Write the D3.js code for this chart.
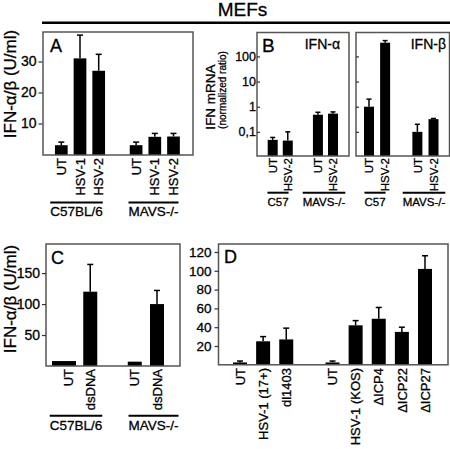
<!DOCTYPE html>
<html><head><meta charset="utf-8">
<script src="https://cdn.jsdelivr.net/npm/d3@7"></script>
<style>
body{margin:0;background:#fff}
svg{display:block}
text{font-family:"Liberation Sans",Arial,sans-serif;fill:#000;stroke:#000;stroke-width:0.3px}
</style>
</head><body>
<svg width="450" height="449"></svg>
<script>
// ---------- data ----------
const titleText = "MEFs";
const yLabelAC = "IFN-α/β (U/ml)";
const yLabelB1 = "IFN mRNA";
const yLabelB2 = "(normalized ratio)";

// Panel A
const aLabels = ["UT", "HSV-1", "HSV-2", "UT", "HSV-1", "HSV-2"];
const aGroupOf = [0, 0, 0, 1, 1, 1];
const aGroups = ["C57BL/6", "MAVS-/-"];
const aValues = [3, 31, 27, 3, 5.7, 5.8];
const aErrTop = [4, 38.5, 32.3, 4, 6.8, 6.8];
const aTicks = [10, 20, 30];

// Panel B
const bLabels = ["UT", "HSV-2", "UT", "HSV-2"];
const bGroupOf = [0, 0, 1, 1];
const bGroups = ["C57", "MAVS-/-"];
const bAlphaValues = [0.048, 0.045, 0.48, 0.53];
const bAlphaErrTop = [0.06, 0.1, 0.6, 0.62];
const bBetaValues = [1, 350, 0.1, 0.32];
const bBetaErrTop = [2, 425, 0.2, 0.34];
const bTicks = [0.1, 1, 10, 100];
const bTickLabels = ["0,1", "1", "10", "100"];

// Panel C
const cLabels = ["UT", "dsDNA", "UT", "dsDNA"];
const cGroupOf = [0, 0, 1, 1];
const cGroups = ["C57BL/6", "MAVS-/-"];
const cValues = [8, 120, 7, 100];
const cErrTop = [null, 164, null, 122];
const cTicks = [50, 100, 150];

// Panel D
const dLabels = ["UT", "HSV-1 (17+)", "dl1403", "UT", "HSV-1 (KOS)", "ΔICP4", "ΔICP22", "ΔICP27"];
const dGroupOf = [0, 0, 0, 1, 1, 1, 1, 1];
const dValues = [2.5, 25, 27, 2.5, 42, 49, 35, 102];
const dErrTop = [4, 30, 39, 4, 47, 61, 40, 116];
const dTicks = [20, 40, 60, 80, 100, 120];

// ---------- drawing ----------
const svg = d3.select("svg");
const slotsOf = g => g.map((k, i) => i + k);

svg.append("text").attr("x", 242.5).attr("y", 16).attr("text-anchor", "middle")
  .attr("font-size", 19).text(titleText);
svg.append("line").attr("x1", 42).attr("x2", 450).attr("y1", 22.7).attr("y2", 22.7)
  .attr("stroke", "#000").attr("stroke-width", 2.5);

function frame(x0, y0, x1, y1) {
  svg.append("rect").attr("x", x0).attr("y", y0).attr("width", x1 - x0).attr("height", y1 - y0)
    .attr("fill", "none").attr("stroke", "#555").attr("stroke-width", 1.5);
}

function yAxis(scale, x0, ticks, fmt, size, inner, pad, fs) {
  const ax = d3.axisLeft(scale).tickValues(ticks).tickSize(inner).tickPadding(pad);
  if (fmt) ax.tickFormat(fmt);
  const g = svg.append("g").attr("transform", `translate(${x0},0)`).call(ax);
  g.select(".domain").remove();
  g.selectAll("line").attr("stroke", "#333").attr("stroke-width", 1.2);
  g.selectAll("text").attr("font-size", fs).attr("font-family", '"Liberation Sans",Arial,sans-serif')
    .attr("fill", "#000").attr("stroke", "#000").attr("stroke-width", 0.3);
  return g;
}

function bars(x, y, slots, values, errs, barW, capW, base, widthFn) {
  const g = svg.append("g");
  slots.forEach((s, i) => {
    const w = widthFn ? widthFn(i, barW) : barW;
    const cx = x(s) + (widthFn && w !== barW ? -4 : 0);
    g.append("rect").attr("x", cx - w / 2).attr("y", y(values[i]))
      .attr("width", w).attr("height", base - y(values[i])).attr("fill", "#000");
    if (errs[i] != null) {
      g.append("line").attr("x1", x(s)).attr("x2", x(s)).attr("y1", y(values[i])).attr("y2", y(errs[i]))
        .attr("stroke", "#000").attr("stroke-width", 1.5);
      g.append("line").attr("x1", x(s) - capW / 2).attr("x2", x(s) + capW / 2)
        .attr("y1", y(errs[i])).attr("y2", y(errs[i])).attr("stroke", "#000").attr("stroke-width", 1.5);
    }
  });
}

function catLabels(x, slots, labels, top, fs) {
  slots.forEach((s, i) => {
    svg.append("text").attr("transform", `translate(${x(s) + fs * 0.36},${top}) rotate(-90)`)
      .attr("text-anchor", "end").attr("font-size", fs).text(labels[i]);
  });
}

function groupLabels(groups, centers, lineY, textY, fs) {
  groups.forEach((gname, i) => {
    const t = svg.append("text").attr("x", centers[i]).attr("y", textY).attr("text-anchor", "middle")
      .attr("font-size", fs).text(gname);
    const w = t.node().getComputedTextLength();
    svg.append("line").attr("x1", centers[i] - w / 2).attr("x2", centers[i] + w / 2)
      .attr("y1", lineY).attr("y2", lineY).attr("stroke", "#000").attr("stroke-width", 2);
  });
}

function yTitle(text, cx, cy, fs) {
  svg.append("text").attr("transform", `translate(${cx + fs * 0.36},${cy}) rotate(-90)`)
    .attr("text-anchor", "middle").attr("font-size", fs).text(text);
}

function letter(t, x, y, fs) {
  svg.append("text").attr("x", x).attr("y", y).attr("font-size", fs).text(t);
}

// Panel A
{
  const slots = slotsOf(aGroupOf);
  const x = d3.scaleLinear().domain([0, 6]).range([61.3, 173.5]);
  const y = d3.scaleLinear().domain([0, 39.5]).range([154.5, 32]);
  bars(x, y, slots, aValues, aErrTop, 12.7, 6, 155);
  frame(43, 32, 193, 155);
  yAxis(y, 42.5, aTicks, null, 0, 4, 2, 14);
  letter("A", 50, 52, 18);
  yTitle(yLabelAC, 10, 84, 17);
  catLabels(x, slots, aLabels, 158, 13);
  groupLabels(aGroups, [76.5, 153.5], 202.5, 216, 13.5);
}

// Panel B
{
  const slots = slotsOf(bGroupOf);
  const y = d3.scaleLog().domain([Math.pow(10, -1.96), Math.pow(10, 2.95)]).range([156, 32.5]);
  const xa = d3.scaleLinear().domain([0, 4]).range([272.7, 333]);
  const xb = d3.scaleLinear().domain([0, 4]).range([369, 433.5]);
  bars(xa, y, slots, bAlphaValues, bAlphaErrTop, 10, 5, 156);
  bars(xb, y, slots, bBetaValues, bBetaErrTop, 10, 5, 156);
  frame(257, 32.5, 349, 156);
  frame(356, 32.5, 449.5, 156);
  yAxis(y, 257, bTicks, (d, i) => bTickLabels[bTicks.indexOf(d)], 0, -3, 1, 12.5);
  yAxis(y, 356, bTicks, () => "", 0, -3, 1, 12);
  letter("B", 262, 52, 19);
  svg.append("text").attr("x", 340).attr("y", 48.5).attr("text-anchor", "end").attr("font-size", 14).text("IFN-α");
  svg.append("text").attr("x", 446).attr("y", 48.5).attr("text-anchor", "end").attr("font-size", 14).text("IFN-β");
  yTitle(yLabelB1, 210, 97, 13.5);
  yTitle(yLabelB2, 222.5, 90, 10);
  catLabels(xa, slots, bLabels, 158, 11.5);
  catLabels(xb, slots, bLabels, 158, 11.5);
  groupLabels(bGroups, [278, 324], 192.7, 205.5, 11.5);
  groupLabels(bGroups, [375, 424], 192.7, 205.5, 11.5);
}

// Panel C
{
  const slots = slotsOf(cGroupOf);
  const x = d3.scaleLinear().domain([0, 4]).range([68, 157]);
  const y = d3.scaleLinear().domain([0, 197]).range([366, 244]);
  bars(x, y, slots, cValues, cErrTop, 14, 6, 366, (i, w) => (i === 0 ? 24 : w));
  frame(46, 244, 180, 366);
  yAxis(y, 46, cTicks, null, 0, 4, 2, 14);
  letter("C", 51, 264, 18);
  yTitle(yLabelAC, 10, 299, 17);
  catLabels(x, slots, cLabels, 369, 13);
  groupLabels(cGroups, [76, 153.5], 415.7, 430, 13.5);
}

// Panel D
{
  const slots = slotsOf(dGroupOf);
  const x = d3.scaleLinear().domain([0, 8]).range([240, 425]);
  const y = d3.scaleLinear().domain([0, 128.5]).range([364.8, 244]);
  bars(x, y, slots, dValues, dErrTop, 14, 6, 364.8);
  frame(218.5, 244, 448, 364.8);
  yAxis(y, 218.5, dTicks, null, 0, 4, 3, 13.5);
  letter("D", 224, 263, 18);
  catLabels(x, slots, dLabels, 368, 13);
}
</script>
</body></html>
